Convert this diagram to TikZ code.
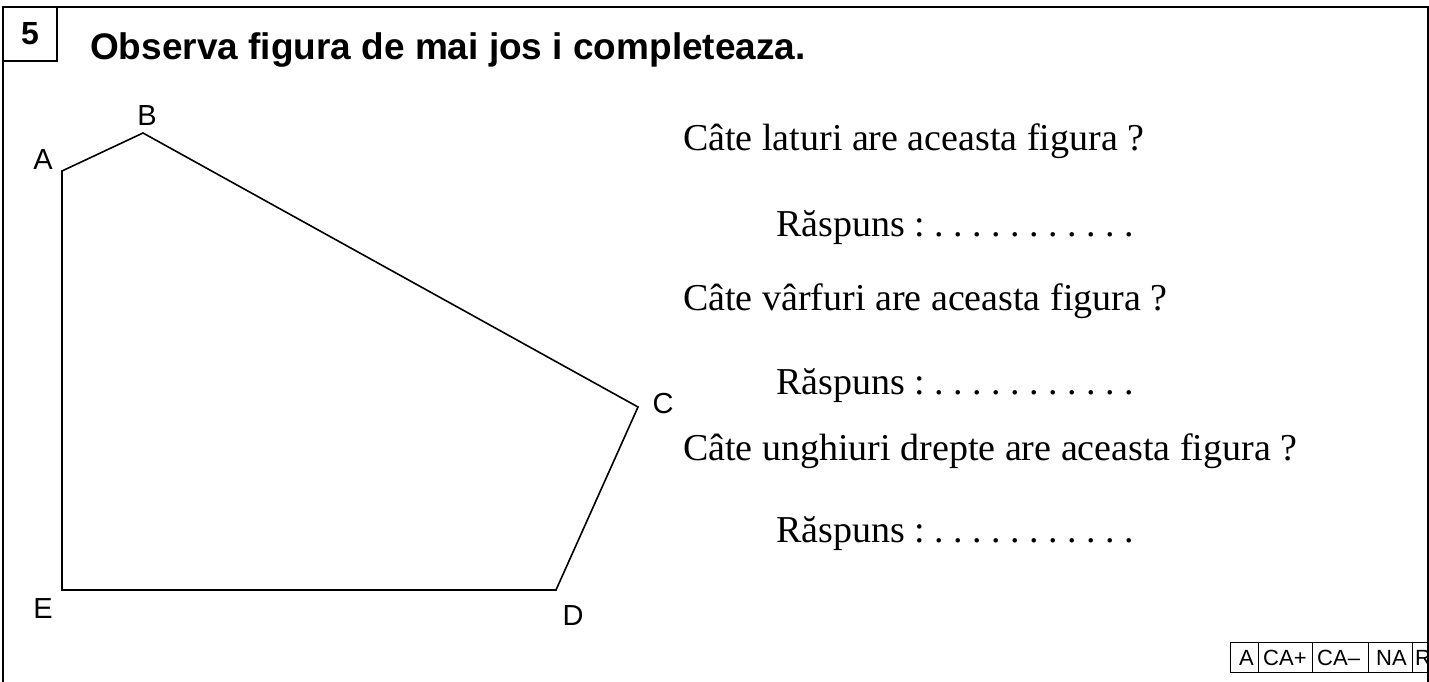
\documentclass[tikz,border=0pt]{standalone}
\usepackage{fontspec}
\setmainfont{Liberation Serif}
\setsansfont{Liberation Sans}
\begin{document}
\frenchspacing
\begin{tikzpicture}[x=1pt,y=-1pt,
  frame/.style={line width=2pt,black},
  poly/.style={line width=1.6pt,black,line join=miter},
  vlabel/.style={font=\sffamily\fontsize{29}{31}\selectfont,inner sep=0pt},
  question/.style={anchor=base west,font=\rmfamily\fontsize{38}{40}\selectfont,inner sep=0pt},
  cell/.style={draw,line width=1.2pt,minimum height=30pt,inner sep=0pt,anchor=north west},
  celltext/.style={anchor=west,inner sep=0pt,font=\sffamily\fontsize{22}{24}\selectfont}
]
\useasboundingbox (0,0) rectangle (1429,682);
\clip (0,0) rectangle (1429,682);
% frame
\draw[frame] (3,682) -- (3,7) -- (1428,7) -- (1428,682);
\draw[frame] (3,61) -- (57,61) -- (57,7);
\node[font=\sffamily\bfseries\fontsize{32}{34}\selectfont,inner sep=0pt] (num) at (30,34) {5};
\node[anchor=base west,font=\sffamily\bfseries\fontsize{37}{39}\selectfont,inner sep=0pt] (title) at (90,60) {Observa figura de mai jos i completeaza.};
% polygon
\coordinate (A) at (62,171);
\coordinate (B) at (143,133);
\coordinate (C) at (638,407);
\coordinate (D) at (556,590);
\coordinate (E) at (62,590);
\draw[poly] (A) -- (B) -- (C) -- (D) -- (E) -- cycle;
\node[vlabel] (la) at (43,160) {A};
\node[vlabel] (lb) at (147,116) {B};
\node[vlabel] (lc) at (663,404) {C};
\node[vlabel] (ld) at (573,616) {D};
\node[vlabel] (le) at (43,609) {E};
% questions
\node[question] (q1) at (683,150) {Câte laturi are aceasta figura ?};
\node[question] (r1) at (776,236) {Răspuns : . . . . . . . . . . .};
\node[question] (q2) at (683,310) {Câte vârfuri are aceasta figura ?};
\node[question] (r2) at (776,394) {Răspuns : . . . . . . . . . . .};
\node[question] (q3) at (683,460) {Câte unghiuri drepte are aceasta figura ?};
\node[question] (r3) at (776,542) {Răspuns : . . . . . . . . . . .};
% table
\node[cell,minimum width=28pt] (t1) at (1230,642) {};
\node[cell,minimum width=54pt] (t2) at (1258,642) {};
\node[cell,minimum width=56pt] (t3) at (1312,642) {};
\node[cell,minimum width=44pt] (t4) at (1368,642) {};
\node[cell,minimum width=28pt] (t5) at (1412,642) {};
\node[celltext] (x1) at ([xshift=9pt]t1.west) {A};
\node[celltext] (x2) at ([xshift=5pt]t2.west) {CA+};
\node[celltext] (x3) at ([xshift=5pt]t3.west) {CA--};
\node[celltext] (x4) at ([xshift=8pt]t4.west) {NA};
\node[celltext] (x5) at ([xshift=3pt]t5.west) {R};
\draw[frame] (1428,7) -- (1428,682);
\end{tikzpicture}
\end{document}
